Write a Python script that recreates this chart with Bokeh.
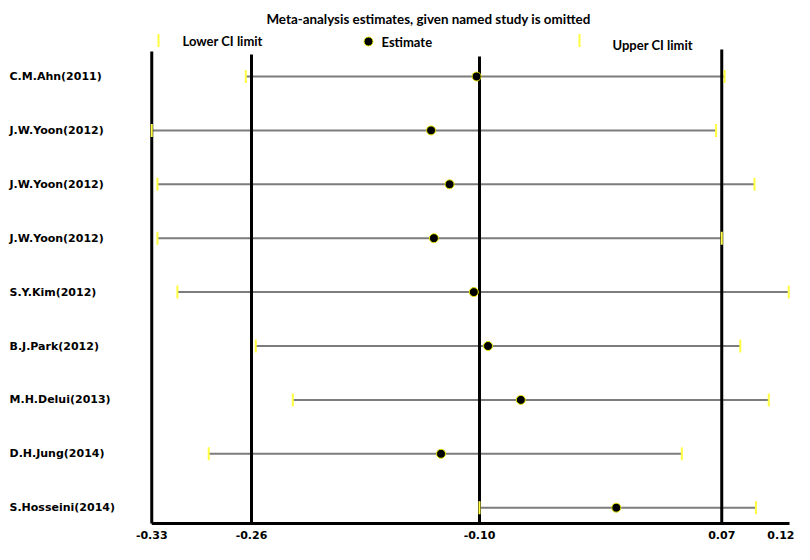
from bokeh.plotting import figure
from bokeh.models import Range1d, FixedTicker, NumeralTickFormatter, ColumnDataSource
from bokeh.core.properties import value
from bokeh.embed import file_html
from bokeh.resources import INLINE
import math

# ---------------- data ----------------
studies = ["C.M.Ahn(2011)", "J.W.Yoon(2012)", "J.W.Yoon(2012)", "J.W.Yoon(2012)",
           "S.Y.Kim(2012)", "B.J.Park(2012)", "M.H.Delui(2013)", "D.H.Jung(2014)",
           "S.Hosseini(2014)"]
estimate = [-0.102, -0.134, -0.121, -0.132, -0.104, -0.094, -0.071, -0.127, -0.004]
lower_ci = [-0.264, -0.330, -0.326, -0.326, -0.312, -0.257, -0.231, -0.290, -0.100]
upper_ci = [0.072, 0.066, 0.093, 0.070, 0.117, 0.083, 0.103, 0.042, 0.094]
tick_values = [-0.33, -0.26, -0.10, 0.07, 0.12]
ref_lines = [-0.33, -0.26, -0.10, 0.07]
title_text = "Meta-analysis estimates, given named study is omitted"

# ---------------- layout helpers (pixel -> data) ----------------
W, FRAME_H = 794, 525
PX_PER_X = 1425.0
X_REF, PX_X_REF = -0.10, 479.0
ROW0_PX, ROW_STEP = 76.0, 53.9
BASE_PX = 523

def xd(px):
    return X_REF + (px - PX_X_REF) / PX_PER_X

def yd(py):
    return (ROW0_PX - py) / ROW_STEP

rows = [-i for i in range(len(studies))]
src = ColumnDataSource(dict(study=studies, est=estimate, lo=lower_ci, hi=upper_ci, y=rows,
                            lx=[xd(9)] * len(studies)))

p = figure(frame_width=W, frame_height=FRAME_H,
           x_range=Range1d(xd(0), xd(W)), y_range=Range1d(yd(FRAME_H), yd(0)),
           y_axis_location=None, output_backend="svg", toolbar_location=None,
           min_border=0)
p.outline_line_color = None
p.grid.visible = False
p.background_fill_color = "white"
p.border_fill_color = "white"

xa = p.xaxis[0]
xa.ticker = FixedTicker(ticks=tick_values)
xa.formatter = NumeralTickFormatter(format="0.00")
xa.axis_line_color = None
xa.major_tick_line_color = None
xa.minor_tick_line_color = None
xa.major_tick_in = 0
xa.major_tick_out = 0
xa.major_label_standoff = 5
xa.major_label_text_font = "DejaVu Sans"
xa.major_label_text_font_style = "bold"
xa.major_label_text_font_size = "11px"
xa.major_label_text_color = "black"

BOLD_NARROW = value("Lato")

# CI lines
p.segment(x0="lo", x1="hi", y0="y", y1="y", source=src, line_color="#7c7c7c", line_width=2)

# vertical reference lines
tops = [51, 54, 56, 49]
p.segment(x0=ref_lines, x1=ref_lines, y0=[yd(t) for t in tops], y1=[yd(BASE_PX)] * 4,
          line_color="black", line_width=3)
# baseline
p.segment(x0=[ref_lines[0]], x1=[xd(789)], y0=[yd(BASE_PX)], y1=[yd(BASE_PX)],
          line_color="black", line_width=3)

# yellow CI limit ticks
for col in ("lo", "hi"):
    p.scatter(x=col, y="y", source=src, marker="dash", angle=math.pi / 2, size=13,
              line_color="#ffff40", line_width=2)

# estimates
p.scatter(x="est", y="y", source=src, marker="circle", size=9,
          fill_color="black", line_color="#e8e800", line_width=1)

# study labels
p.text(x="lx", y="y", text="study", source=src, text_font=value("DejaVu Sans"),
       text_font_style="bold", text_font_size="11px", text_align="left",
       text_baseline="middle", text_color="black")

# title
p.text(x=[xd(428)], y=[yd(18)], text=[title_text], text_font=BOLD_NARROW,
       text_font_style="bold", text_font_size="13.4px", text_align="center",
       text_baseline="middle", text_color="black")

# legend
p.scatter(x=[xd(158), xd(579)], y=[yd(40), yd(40)], marker="dash", angle=math.pi / 2,
          size=13, line_color="#ffff40", line_width=2)
p.scatter(x=[xd(368)], y=[yd(41)], marker="circle", size=9, fill_color="black",
          line_color="#e8e800", line_width=1)
p.text(x=[xd(182), xd(381), xd(612)], y=[yd(40), yd(41), yd(44)],
       text=["Lower CI limit", "Estimate", "Upper CI limit"], text_font=BOLD_NARROW,
       text_font_style="bold", text_font_size="13px", text_align="left",
       text_baseline="middle", text_color="black")

open("out.html", "w").write(file_html(p, INLINE))
